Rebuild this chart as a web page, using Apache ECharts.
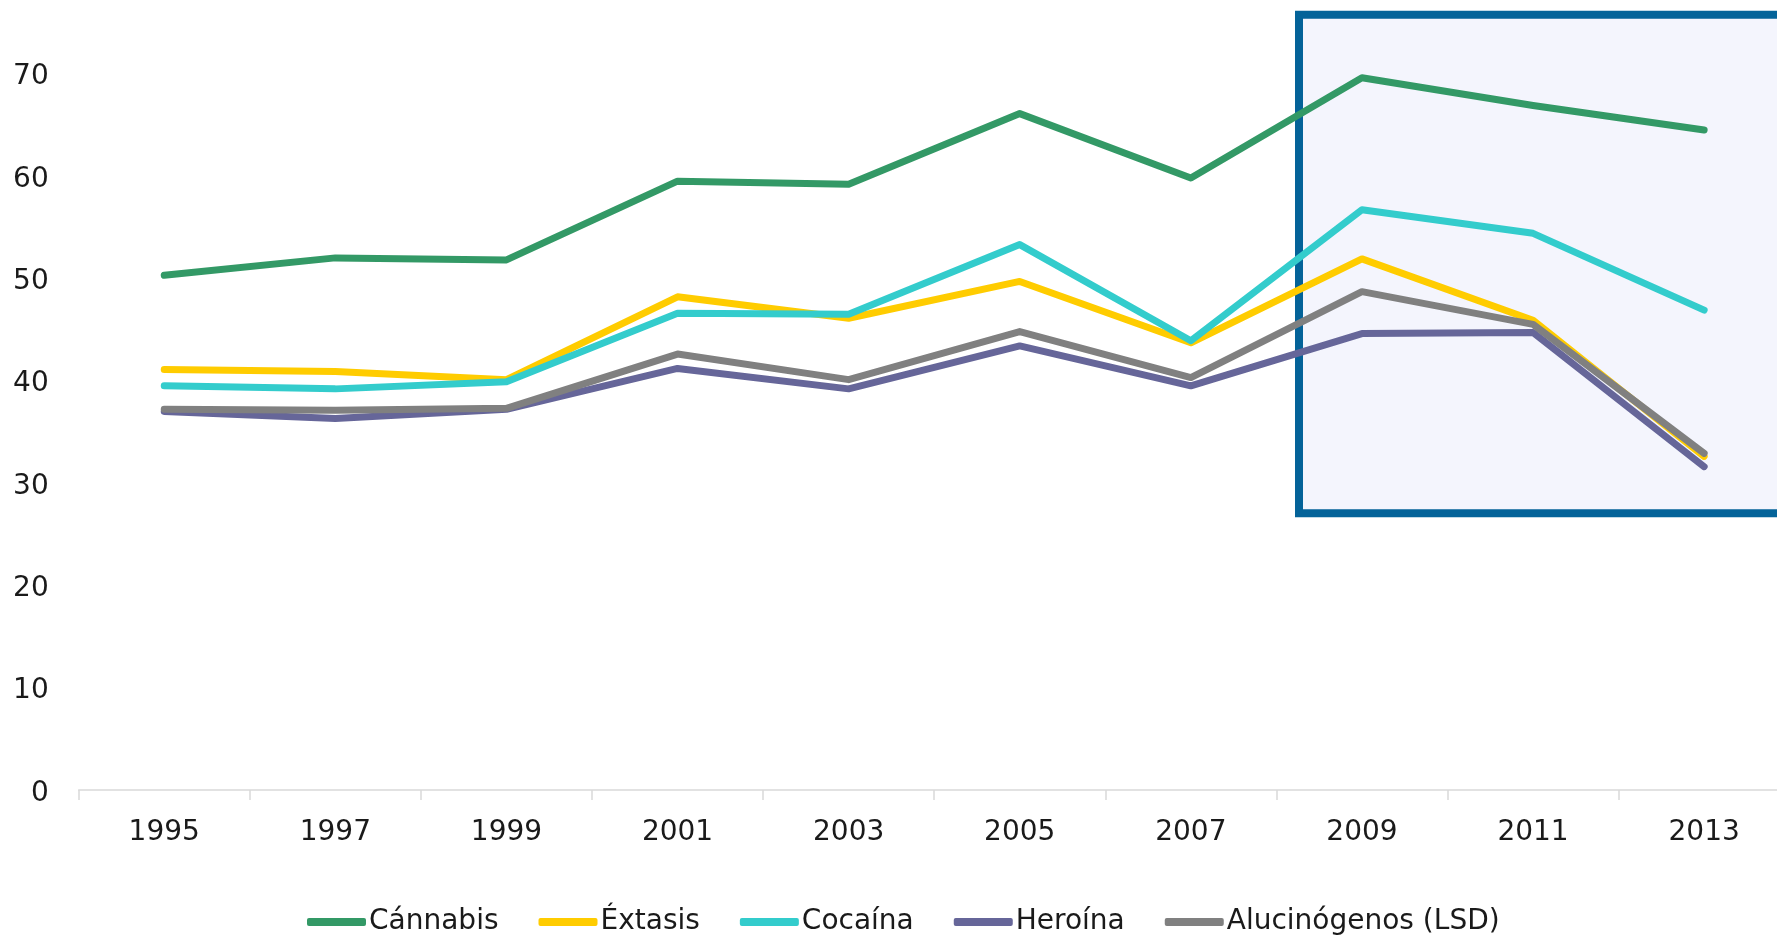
<!DOCTYPE html>
<html>
<head>
<meta charset="utf-8">
<script src="https://cdn.jsdelivr.net/npm/echarts@6/dist/echarts.min.js"></script>
<style>
html,body{margin:0;padding:0;background:#fff;}
#chart{width:1777px;height:937px;}
</style>
</head>
<body>
<div id="chart"></div>
<script>
var years = ['1995','1997','1999','2001','2003','2005','2007','2009','2011','2013'];
var yTicks = [0,10,20,30,40,50,60,70];
var seriesNames = ['Cánnabis','Éxtasis','Cocaína','Heroína','Alucinógenos (LSD)'];
var cannabis = [50.3, 52.0, 51.8, 59.5, 59.2, 66.1, 59.8, 69.6, 66.9, 64.5];
var extasis  = [41.1, 40.9, 40.1, 48.2, 46.1, 49.7, 43.7, 51.9, 45.9, 32.6];
var cocaina  = [39.5, 39.2, 39.9, 46.6, 46.5, 53.3, 43.9, 56.7, 54.4, 46.9];
var heroina  = [37.0, 36.3, 37.2, 41.2, 39.2, 43.4, 39.5, 44.6, 44.7, 31.6];
var lsd      = [37.2, 37.1, 37.3, 42.6, 40.1, 44.8, 40.3, 48.7, 45.5, 32.9];

var colors = ['#339966','#FFCC00','#33CCCC','#666699','#808080'];
var values = [cannabis, extasis, cocaina, heroina, lsd];
var FONT = 'DejaVu Sans';
var TXT = '#1a1a1a';

var chart = echarts.init(document.getElementById('chart'), null, {renderer:'canvas'});
chart.setOption({
  animation: false,
  backgroundColor: '#ffffff',
  color: colors,
  graphic: [{
    type: 'rect',
    z: -10,
    shape: { x: 1299, y: 14.7, width: 700, height: 498.6 },
    style: { fill: '#F4F5FD', stroke: '#046399', lineWidth: 8 }
  }],
  grid: { left: 78.7, width: 1711, top: 73.7, bottom: 147, containLabel: false, outerBoundsMode: 'none' },
  legend: {
    data: seriesNames,
    left: 302,
    top: 903,
    icon: 'roundRect',
    itemWidth: 59,
    itemHeight: 8,
    itemGap: 40,
    textStyle: { fontFamily: FONT, fontSize: 28, color: TXT, padding: [0,0,0,-2] }
  },
  xAxis: {
    type: 'category',
    data: years,
    boundaryGap: true,
    axisLine: { show: true, lineStyle: { color: '#d9d9d9', width: 1.5 } },
    axisTick: { show: true, length: 10, lineStyle: { color: '#d9d9d9', width: 1.5 } },
    axisLabel: { fontFamily: FONT, fontSize: 28, color: TXT, margin: 29 },
    splitLine: { show: false }
  },
  yAxis: {
    type: 'value',
    min: yTicks[0],
    max: yTicks[yTicks.length-1],
    interval: 10,
    axisLine: { show: false },
    axisTick: { show: false },
    splitLine: { show: false },
    axisLabel: {
      fontFamily: FONT, fontSize: 28, color: TXT, margin: 30,
      formatter: '{v|{value}}',
      rich: { v: { fontFamily: FONT, fontSize: 28, color: TXT, lineHeight: 30, padding: [7,0,0,0] } }
    }
  },
  series: seriesNames.map(function(n, i){
    return {
      name: n,
      type: 'line',
      data: values[i],
      symbol: 'none',
      smooth: false,
      z: 5 + i,
      lineStyle: { width: 7, color: colors[i], cap: 'round', join: 'round' },
      itemStyle: { color: colors[i] }
    };
  })
});
</script>
</body>
</html>
